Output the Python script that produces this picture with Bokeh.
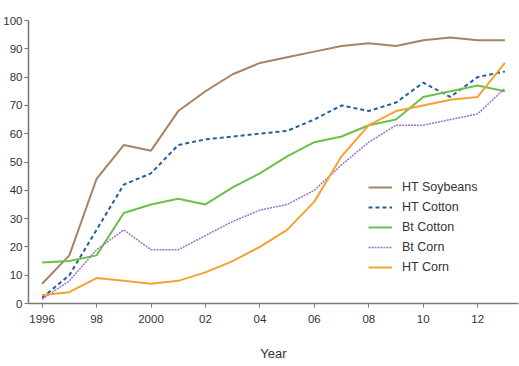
from bokeh.plotting import figure
from bokeh.models import FixedTicker, Legend, LegendItem
from bokeh.embed import file_html
from bokeh.resources import INLINE

# Adoption of genetically engineered crops, percent of planted acres
years = list(range(1996, 2014))
ht_soybeans = [7, 17, 44, 56, 54, 68, 75, 81, 85, 87, 89, 91, 92, 91, 93, 94, 93, 93]
ht_cotton = [2, 10, 26, 42, 46, 56, 58, 59, 60, 61, 65, 70, 68, 71, 78, 73, 80, 82]
bt_cotton = [14.5, 15, 17, 32, 35, 37, 35, 41, 46, 52, 57, 59, 63, 65, 73, 75, 77, 75]
bt_corn = [1.5, 8, 19, 26, 19, 19, 24, 29, 33, 35, 40, 49, 57, 63, 63, 65, 67, 76]
ht_corn = [3, 4, 9, 8, 7, 8, 11, 15, 20, 26, 36, 52, 63, 68, 70, 72, 73, 85]

x_ticks = [1996, 1998, 2000, 2002, 2004, 2006, 2008, 2010, 2012]
x_tick_labels = ["1996", "98", "2000", "02", "04", "06", "08", "10", "12"]
y_ticks = [0, 10, 20, 30, 40, 50, 60, 70, 80, 90, 100]

FONT = "Liberation Sans"
TEXT = "#333333"

p = figure(frame_width=490, frame_height=283,
           x_range=(1995.5, 2013.5), y_range=(0, 100),
           output_backend="svg", toolbar_location=None,
           min_border_left=27, min_border_right=2, min_border_top=20,
           min_border_bottom=63)
p.outline_line_color = None
p.xgrid.grid_line_color = None
p.ygrid.grid_line_color = None
p.background_fill_color = "white"
p.border_fill_color = "white"

r_soy = p.line(years, ht_soybeans, line_color="#a88262", line_width=2)
r_htc = p.line(years, ht_cotton, line_color="#23609e", line_width=2, line_dash="4 3")
r_btc = p.line(years, bt_cotton, line_color="#6cc04a", line_width=2)
r_btcorn = p.line(years, bt_corn, line_color="#9b72c8", line_width=1.5, line_dash="2 1")
r_htcorn = p.line(years, ht_corn, line_color="#f5a133", line_width=2)

for ax in (p.xaxis[0], p.yaxis[0]):
    ax.axis_line_color = "#777777"
    ax.axis_line_width = 1.5
    ax.major_tick_line_color = "#777777"
    ax.major_tick_in = 0
    ax.major_tick_out = 4
    ax.minor_tick_line_color = None
    ax.major_label_text_font = FONT
    ax.major_label_text_font_size = "11.5px"
    ax.major_label_text_color = TEXT

p.xaxis.ticker = FixedTicker(ticks=x_ticks)
p.xaxis.major_label_overrides = {t: s for t, s in zip(x_ticks, x_tick_labels)}
p.xaxis.major_label_standoff = 7
p.xaxis.axis_label = "Year"
p.xaxis.axis_label_text_font = FONT
p.xaxis.axis_label_text_font_style = "normal"
p.xaxis.axis_label_text_font_size = "13px"
p.xaxis.axis_label_text_color = TEXT
p.xaxis.axis_label_standoff = 20

p.yaxis.ticker = FixedTicker(ticks=y_ticks)
p.yaxis.major_label_standoff = 2

legend = Legend(items=[
    LegendItem(label="HT Soybeans", renderers=[r_soy]),
    LegendItem(label="HT Cotton", renderers=[r_htc]),
    LegendItem(label="Bt Cotton", renderers=[r_btc]),
    LegendItem(label="Bt Corn", renderers=[r_btcorn]),
    LegendItem(label="HT Corn", renderers=[r_htcorn]),
], location=(340, 26))
legend.border_line_color = None
legend.background_fill_alpha = 0
legend.padding = 0
legend.margin = 0
legend.spacing = 0
legend.glyph_width = 24
legend.glyph_height = 20
legend.label_height = 20
legend.label_standoff = 10
legend.label_text_font = FONT
legend.label_text_font_size = "12.5px"
legend.label_text_color = TEXT
p.add_layout(legend)

open("out.html", "w").write(file_html(p, INLINE))
